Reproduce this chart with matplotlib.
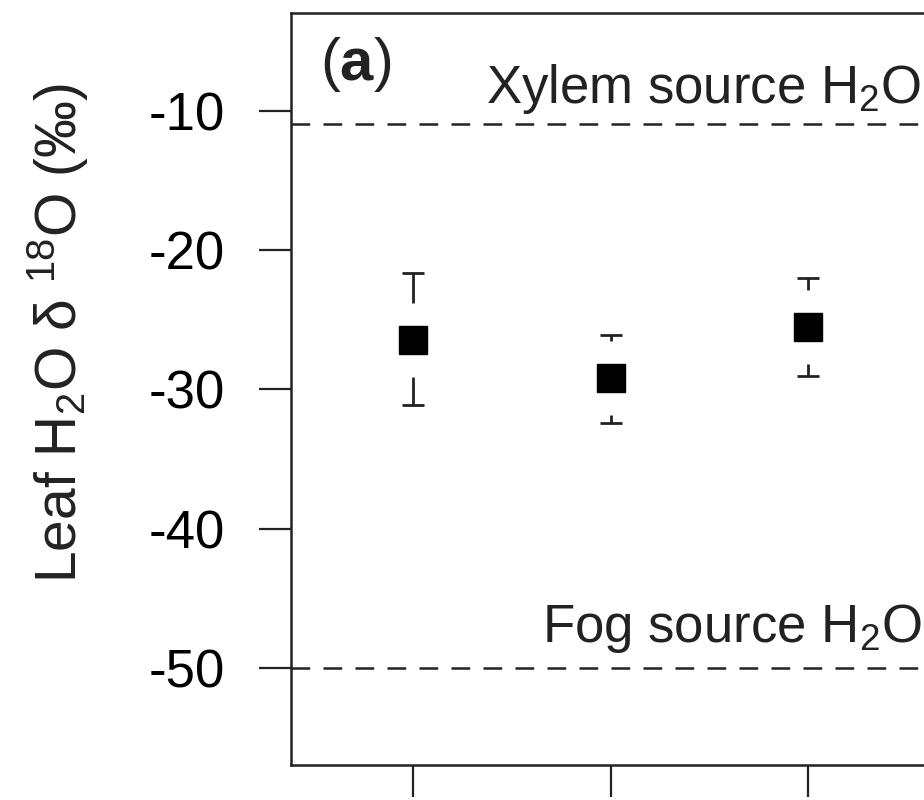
import numpy as np
import matplotlib
matplotlib.use("Agg")
import matplotlib.pyplot as plt

plt.rcParams['font.family'] = ['Liberation Sans', 'DejaVu Sans']
plt.rcParams['mathtext.fontset'] = 'custom'
plt.rcParams['mathtext.rm'] = 'Liberation Sans'
plt.rcParams['mathtext.it'] = 'Liberation Sans:italic'
plt.rcParams['mathtext.bf'] = 'Liberation Sans:bold'

# group means and error bar ends (permil)
groups = [1, 2, 3]
means = [-26.45, -29.2, -25.5]
upper = [-21.6, -26.1, -22.0]
lower = [-31.1, -32.4, -29.0]

# source water reference levels
xylem_level = -10.9
fog_level = -50.0
yticks = [-10, -20, -30, -40, -50]

fig = plt.figure(figsize=(9.24, 8), dpi=100)
# panel is wider than the saved picture, right side falls off the edge
ax = fig.add_axes([0.315, 0.04375, 0.9054, 0.94])
ax.set_xlim(0.382, 4.618)
ax.set_ylim(-56.97, -2.96)

for s in ax.spines.values():
    s.set_linewidth(1.8)
    s.set_color('#222222')

ax.set_yticks(yticks)
ax.set_yticklabels([str(v) for v in yticks])
ax.set_xticks(groups)
ax.tick_params(axis='both', direction='out', length=23, width=1.6,
               color='#222222', labelsize=38, pad=25)
ax.tick_params(axis='x', labelbottom=False)

# dashed source lines
ax.axhline(xylem_level, color='#222222', lw=1.8, dashes=(7.5, 5.3))
ax.axhline(fog_level, color='#222222', lw=1.8, dashes=(7.5, 5.3))

ax.annotate('Xylem source H$_2$O', xy=(3.575, xylem_level), xytext=(0, 15),
            textcoords='offset points', ha='right', va='baseline',
            fontsize=38, color='#222222')
ax.annotate('Fog source H$_2$O', xy=(3.575, fog_level), xytext=(0, 19),
            textcoords='offset points', ha='right', va='baseline',
            fontsize=38, color='#222222')

# error bars leave a gap around the marker
gap = 2.65
x = np.array(groups)
m = np.array(means)
ax.vlines(x, m + gap, upper, color='#222222', lw=2)
ax.vlines(x, m - gap, lower, color='#222222', lw=2)
ax.plot(x, upper, ls='none', marker='_', ms=16, mew=2, color='#222222')
ax.plot(x, lower, ls='none', marker='_', ms=16, mew=2, color='#222222')
ax.plot(x, m, ls='none', marker='s', ms=20, color='black')

ax.annotate(r'($\mathbf{a}$)', xy=(0, 1), xycoords='axes fraction',
            xytext=(21, -48), textcoords='offset points',
            ha='left', va='baseline', fontsize=43, color='#222222')

ax.set_ylabel('Leaf H$_2$O δ $^{18}$O (‰)', fontsize=41,
              color='#222222', rotation=90, ha='center', va='center')
ax.yaxis.set_label_coords(-0.279, 0.574)

fig.savefig('out.png', dpi=100)
